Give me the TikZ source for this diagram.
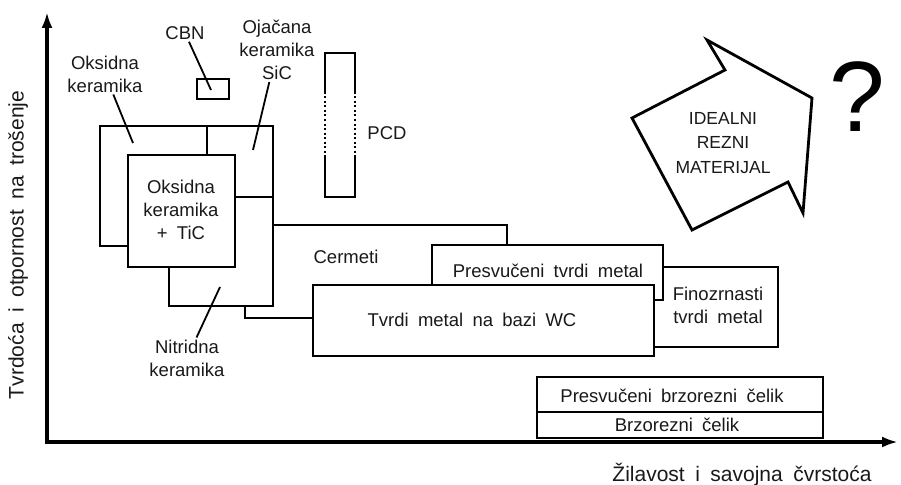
\documentclass[tikz,border=0pt]{standalone}
\usepackage{fontspec}
\setmainfont{Liberation Sans}[WordSpace=1.8]
\usetikzlibrary{arrows.meta}
\begin{document}
\begin{tikzpicture}[x=1pt,y=-1pt,
  box/.style={draw=black,line width=2.8pt,fill=white},
  lbl/.style={text=black!90,font=\fontsize{18.5}{23}\selectfont,align=center,inner sep=2pt},
  axlbl/.style={text=black!90,font=\fontsize{21}{25}\selectfont,inner sep=0pt},
  lead/.style={draw=black,line width=1.8pt}]
\useasboundingbox (0,0) rectangle (901,484);
\draw[line width=3.5pt,{Latex[length=16pt,width=11pt]}-{Latex[length=16pt,width=11pt]}] (47,12) -- (47,442) -- (898,442);
\node[axlbl,rotate=90] (ylab) at (18,245) {Tvrdoća i otpornost na trošenje};
\node[axlbl] (xlab) at (742,474) {Žilavost i savojna čvrstoća};
\draw[box] (600,267) rectangle (778,347);
\draw[box] (245,225) rectangle (507,318);
\draw[box] (432,245) rectangle (663,300);
\draw[box] (313,285) rectangle (654,356);
\draw[box] (169,197) rectangle (273,306);
\draw[box] (100,126) rectangle (207,246);
\draw[box] (207,126) rectangle (273,197);
\draw[box] (128,155) rectangle (235,267);
\draw[box] (197,79) rectangle (229,99);
\draw[box] (537,377) rectangle (823,412);
\draw[box] (537,412) rectangle (823,438);
\draw[line width=2.8pt] (325,92) -- (325,53) -- (355,53) -- (355,92);
\draw[line width=2.8pt] (325,155) -- (325,197) -- (355,197) -- (355,155);
\draw[line width=2.8pt,dash pattern=on 2pt off 2.5pt] (325,92) -- (325,155) (355,92) -- (355,155);
\draw[box] (632,118) -- (725,70) -- (707,40) -- (812,98) -- (803,213) -- (788,182) -- (692,230) -- cycle;
\node[lbl] (ticLbl) at (181,210) {Oksidna\\keramika\\+ TiC};
\node[lbl] (oksLbl) at (105,74) {Oksidna\\keramika};
\node[lbl] (cbnLbl) at (185,33) {CBN};
\node[lbl] (sicLbl) at (277,50) {Ojačana\\keramika\\SiC};
\node[lbl] (nitLbl) at (187,358) {Nitridna\\keramika};
\node[lbl] (pcdLbl) at (387,133) {PCD};
\node[lbl] (cermLbl) at (346,257) {Cermeti};
\node[lbl] (ptmLbl) at (548,271) {Presvučeni tvrdi metal};
\node[lbl] (wcLbl) at (472,320) {Tvrdi metal na bazi WC};
\node[lbl] (finLbl) at (718,305) {Finozrnasti\\tvrdi metal};
\node[lbl] (pbcLbl) at (672,396) {Presvučeni brzorezni čelik};
\node[lbl] (bcLbl) at (677,425) {Brzorezni čelik};
\node[lbl,font=\fontsize{17.5}{24.5}\selectfont] (idealLbl) at (723,143) {IDEALNI\\REZNI\\MATERIJAL};
\node[text=black,font=\fontsize{100}{100}\selectfont,inner sep=0pt] (qm) at (857,97) {?};
\coordinate (oksEnd) at (133,143);
\coordinate (cbnEnd) at (211,90);
\coordinate (sicEnd) at (253,150);
\coordinate (nitEnd) at (220,287);
\draw[lead] (oksLbl) -- (oksEnd);
\draw[lead] (cbnLbl) -- (cbnEnd);
\draw[lead] (sicLbl) -- (sicEnd);
\draw[lead] (nitLbl) -- (nitEnd);
\end{tikzpicture}
\end{document}
